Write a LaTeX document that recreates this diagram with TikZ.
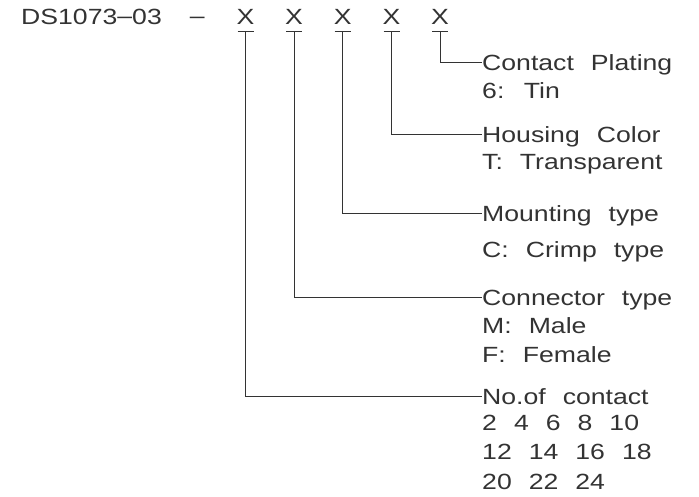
\documentclass[tikz,border=0pt]{standalone}
\usepackage{fontspec}
\setmainfont[FakeStretch=1.21,WordSpace=2.3]{Liberation Sans}
\begin{document}
\begin{tikzpicture}[x=1pt,y=-1pt,
  txt/.style={font=\fontsize{22}{26}\selectfont, inner sep=0pt, text height=15.8pt, text depth=0pt, text=black!80},
  lbl/.style={txt, anchor=west},
  xmark/.style={txt, anchor=center},
  conn/.style={line width=0.9pt, draw=black!80}]
\useasboundingbox (0,0) rectangle (699,497);
\node[lbl] (title) at (21,17) {DS1073\raisebox{1.2pt}{–}03\hspace{28pt}\raisebox{1.2pt}{–}};
\foreach \i/\xx in {1/245.5,2/294,3/342.7,4/391.5,5/440} {
  \node[xmark] (x\i) at (\xx,17) {X};
  \coordinate (u\i) at (\xx,31.7);
  \draw[conn] ([xshift=-8pt]u\i) -- ([xshift=8pt]u\i);
}
% headings
\node[lbl] (h5) at (482,62.3) {Contact Plating};
\node[lbl] (s5a) at (482,90.5) {6: Tin};
\node[lbl] (h4) at (482,134.3) {Housing Color};
\node[lbl] (s4a) at (482,162) {T: Transparent};
\node[lbl] (h3) at (482,213.3) {Mounting type};
\node[lbl] (s3a) at (482,250) {C: Crimp type};
\node[lbl] (h2) at (482,297.7) {Connector type};
\node[lbl] (s2a) at (482,326) {M: Male};
\node[lbl] (s2b) at (482,355) {F: Female};
\node[lbl] (h1) at (482,396.7) {No.of contact};
\node[lbl] (s1a) at (482,423) {2 4 6 8 10};
\node[lbl] (s1b) at (482,452) {12 14 16 18};
\node[lbl] (s1c) at (482,481.5) {20 22 24};
% connectors
\draw[conn] (u5) |- (h5.west);
\draw[conn] (u4) |- (h4.west);
\draw[conn] (u3) |- (h3.west);
\draw[conn] (u2) |- (h2.west);
\draw[conn] (u1) |- (h1.west);
\end{tikzpicture}
\end{document}
